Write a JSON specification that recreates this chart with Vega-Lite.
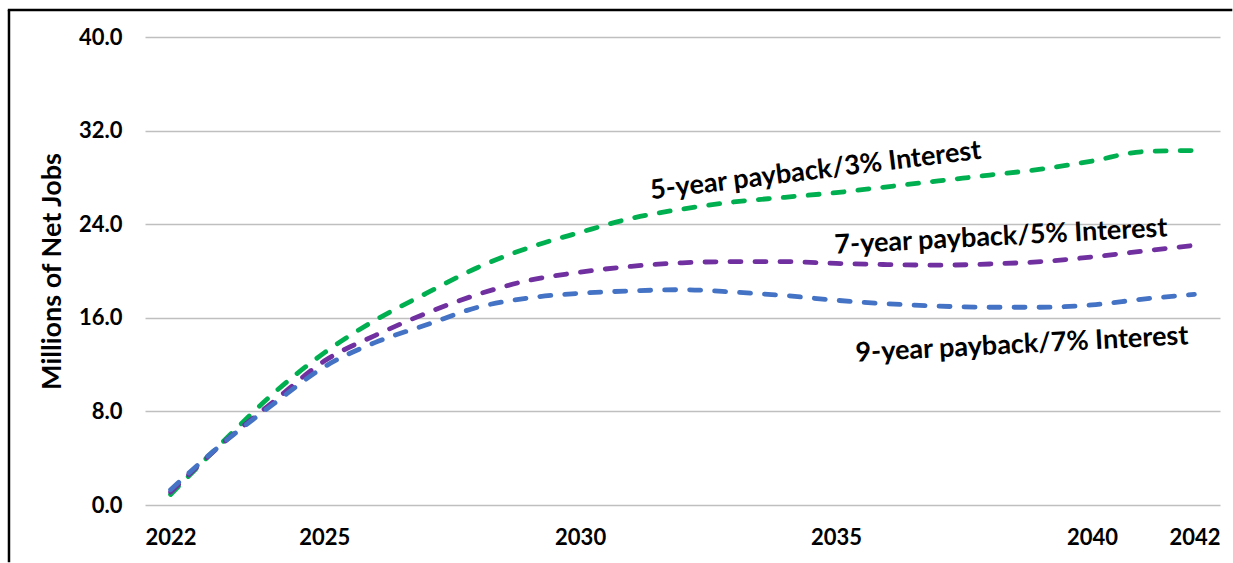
{
  "$schema": "https://vega.github.io/schema/vega-lite/v6.json",
  "width": 1075,
  "height": 468,
  "autosize": {"type": "none"},
  "padding": {"left": 145, "top": 37, "right": 13, "bottom": 58},
  "background": "white",
  "config": {
    "view": {"stroke": null},
    "font": "Lato",
    "axis": {
      "labelFont": "Lato",
      "labelFontWeight": "bold",
      "labelFontSize": 22,
      "labelColor": "#000000",
      "titleFont": "Lato",
      "titleFontWeight": "bold",
      "titleFontSize": 27,
      "titleColor": "#000000",
      "domain": false,
      "ticks": false
    }
  },
  "datasets": {
    "jobs": [
      {"year": 2022, "scenario": "5-year payback/3% Interest", "jobs": 0.9},
      {"year": 2023, "scenario": "5-year payback/3% Interest", "jobs": 5.3},
      {"year": 2024, "scenario": "5-year payback/3% Interest", "jobs": 9.5},
      {"year": 2025, "scenario": "5-year payback/3% Interest", "jobs": 13.0},
      {"year": 2026, "scenario": "5-year payback/3% Interest", "jobs": 15.8},
      {"year": 2027, "scenario": "5-year payback/3% Interest", "jobs": 18.1},
      {"year": 2028, "scenario": "5-year payback/3% Interest", "jobs": 20.3},
      {"year": 2029, "scenario": "5-year payback/3% Interest", "jobs": 22.0},
      {"year": 2030, "scenario": "5-year payback/3% Interest", "jobs": 23.3},
      {"year": 2031, "scenario": "5-year payback/3% Interest", "jobs": 24.5},
      {"year": 2032, "scenario": "5-year payback/3% Interest", "jobs": 25.3},
      {"year": 2033, "scenario": "5-year payback/3% Interest", "jobs": 25.9},
      {"year": 2034, "scenario": "5-year payback/3% Interest", "jobs": 26.3},
      {"year": 2035, "scenario": "5-year payback/3% Interest", "jobs": 26.7},
      {"year": 2036, "scenario": "5-year payback/3% Interest", "jobs": 27.2},
      {"year": 2037, "scenario": "5-year payback/3% Interest", "jobs": 27.7},
      {"year": 2038, "scenario": "5-year payback/3% Interest", "jobs": 28.2},
      {"year": 2039, "scenario": "5-year payback/3% Interest", "jobs": 28.7},
      {"year": 2040, "scenario": "5-year payback/3% Interest", "jobs": 29.4},
      {"year": 2041, "scenario": "5-year payback/3% Interest", "jobs": 30.2},
      {"year": 2042, "scenario": "5-year payback/3% Interest", "jobs": 30.3},
      {"year": 2022, "scenario": "7-year payback/5% Interest", "jobs": 1.1},
      {"year": 2023, "scenario": "7-year payback/5% Interest", "jobs": 5.2},
      {"year": 2024, "scenario": "7-year payback/5% Interest", "jobs": 8.8},
      {"year": 2025, "scenario": "7-year payback/5% Interest", "jobs": 12.3},
      {"year": 2026, "scenario": "7-year payback/5% Interest", "jobs": 14.5},
      {"year": 2027, "scenario": "7-year payback/5% Interest", "jobs": 16.4},
      {"year": 2028, "scenario": "7-year payback/5% Interest", "jobs": 18.0},
      {"year": 2029, "scenario": "7-year payback/5% Interest", "jobs": 19.2},
      {"year": 2030, "scenario": "7-year payback/5% Interest", "jobs": 19.9},
      {"year": 2031, "scenario": "7-year payback/5% Interest", "jobs": 20.4},
      {"year": 2032, "scenario": "7-year payback/5% Interest", "jobs": 20.7},
      {"year": 2033, "scenario": "7-year payback/5% Interest", "jobs": 20.8},
      {"year": 2034, "scenario": "7-year payback/5% Interest", "jobs": 20.8},
      {"year": 2035, "scenario": "7-year payback/5% Interest", "jobs": 20.65},
      {"year": 2036, "scenario": "7-year payback/5% Interest", "jobs": 20.55},
      {"year": 2037, "scenario": "7-year payback/5% Interest", "jobs": 20.5},
      {"year": 2038, "scenario": "7-year payback/5% Interest", "jobs": 20.6},
      {"year": 2039, "scenario": "7-year payback/5% Interest", "jobs": 20.8},
      {"year": 2040, "scenario": "7-year payback/5% Interest", "jobs": 21.2},
      {"year": 2041, "scenario": "7-year payback/5% Interest", "jobs": 21.7},
      {"year": 2042, "scenario": "7-year payback/5% Interest", "jobs": 22.2},
      {"year": 2022, "scenario": "9-year payback/7% Interest", "jobs": 1.3},
      {"year": 2023, "scenario": "9-year payback/7% Interest", "jobs": 5.2},
      {"year": 2024, "scenario": "9-year payback/7% Interest", "jobs": 8.6},
      {"year": 2025, "scenario": "9-year payback/7% Interest", "jobs": 11.8},
      {"year": 2026, "scenario": "9-year payback/7% Interest", "jobs": 13.9},
      {"year": 2027, "scenario": "9-year payback/7% Interest", "jobs": 15.4},
      {"year": 2028, "scenario": "9-year payback/7% Interest", "jobs": 16.9},
      {"year": 2029, "scenario": "9-year payback/7% Interest", "jobs": 17.7},
      {"year": 2030, "scenario": "9-year payback/7% Interest", "jobs": 18.1},
      {"year": 2031, "scenario": "9-year payback/7% Interest", "jobs": 18.3},
      {"year": 2032, "scenario": "9-year payback/7% Interest", "jobs": 18.4},
      {"year": 2033, "scenario": "9-year payback/7% Interest", "jobs": 18.2},
      {"year": 2034, "scenario": "9-year payback/7% Interest", "jobs": 17.9},
      {"year": 2035, "scenario": "9-year payback/7% Interest", "jobs": 17.5},
      {"year": 2036, "scenario": "9-year payback/7% Interest", "jobs": 17.2},
      {"year": 2037, "scenario": "9-year payback/7% Interest", "jobs": 17.0},
      {"year": 2038, "scenario": "9-year payback/7% Interest", "jobs": 16.9},
      {"year": 2039, "scenario": "9-year payback/7% Interest", "jobs": 16.9},
      {"year": 2040, "scenario": "9-year payback/7% Interest", "jobs": 17.1},
      {"year": 2041, "scenario": "9-year payback/7% Interest", "jobs": 17.6},
      {"year": 2042, "scenario": "9-year payback/7% Interest", "jobs": 18.0}
    ],
    "labels": [
      {"scenario": "5-year payback/3% Interest", "year": 2034.6, "jobs": 28.55},
      {"scenario": "7-year payback/5% Interest", "year": 2038.22, "jobs": 22.9},
      {"scenario": "9-year payback/7% Interest", "year": 2038.63, "jobs": 13.68}
    ]
  },
  "layer": [
    {
      "data": {"name": "jobs"},
      "mark": {
        "type": "line",
        "interpolate": "monotone",
        "strokeWidth": 4.8,
        "strokeDash": [11, 14],
        "strokeCap": "round"
      },
      "encoding": {
        "x": {
          "field": "year",
          "type": "quantitative",
          "scale": {"domain": [2021.5, 2042.5], "nice": false, "zero": false},
          "axis": {
            "title": null,
            "values": [2022, 2025, 2030, 2035, 2040, 2042],
            "format": "d",
            "grid": false,
            "labelPadding": 22,
            "labelFlush": false
          }
        },
        "y": {
          "field": "jobs",
          "type": "quantitative",
          "scale": {"domain": [0, 40], "nice": false},
          "axis": {
            "title": "Millions of Net Jobs",
            "values": [0, 8, 16, 24, 32, 40],
            "format": ".1f",
            "grid": true,
            "gridColor": "#BFBFBF",
            "gridWidth": 1.5,
            "labelPadding": 23,
            "titlePadding": 12
          }
        },
        "color": {
          "field": "scenario",
          "type": "nominal",
          "scale": {
            "domain": ["5-year payback/3% Interest", "7-year payback/5% Interest", "9-year payback/7% Interest"],
            "range": ["#00B050", "#7030A0", "#4472C4"]
          },
          "legend": null
        }
      }
    },
    {
      "data": {"name": "labels"},
      "transform": [{"filter": "datum.scenario === '5-year payback/3% Interest'"}],
      "mark": {"type": "text", "angle": -7, "fontSize": 27, "fontWeight": "bold", "font": "Lato", "color": "#000000", "align": "center", "baseline": "middle"},
      "encoding": {
        "x": {"field": "year", "type": "quantitative"},
        "y": {"field": "jobs", "type": "quantitative"},
        "text": {"field": "scenario"}
      }
    },
    {
      "data": {"name": "labels"},
      "transform": [{"filter": "datum.scenario !== '5-year payback/3% Interest'"}],
      "mark": {"type": "text", "angle": -3, "fontSize": 27, "fontWeight": "bold", "font": "Lato", "color": "#000000", "align": "center", "baseline": "middle"},
      "encoding": {
        "x": {"field": "year", "type": "quantitative"},
        "y": {"field": "jobs", "type": "quantitative"},
        "text": {"field": "scenario"}
      }
    },
    {
      "data": {"values": [{"edge": "left"}]},
      "mark": {"type": "rule", "color": "#000000", "strokeWidth": 2.5, "clip": false},
      "encoding": {
        "x": {"datum": 2018.843, "type": "quantitative"},
        "y": {"datum": 42.31, "type": "quantitative"},
        "y2": {"datum": -4.9}
      }
    },
    {
      "data": {"values": [{"edge": "top"}]},
      "mark": {"type": "rule", "color": "#000000", "strokeWidth": 2.5, "clip": false},
      "encoding": {
        "x": {"datum": 2018.82, "type": "quantitative"},
        "x2": {"datum": 2042.74},
        "y": {"datum": 42.31, "type": "quantitative"}
      }
    }
  ]
}
